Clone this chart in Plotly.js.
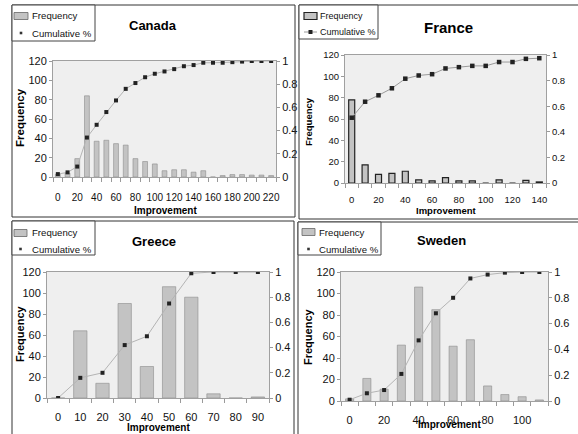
<!DOCTYPE html>
<html><head><meta charset="utf-8">
<script src="https://cdn.plot.ly/plotly-3.0.1.min.js"></script>
<style>html,body{margin:0;padding:0;background:#fff}</style>
</head><body>
<div id="chart" style="width:578px;height:434px"></div>
<script>
// ---------- DATA ----------
const canadaImprovement = [0,10,20,30,40,50,60,70,80,90,100,110,120,130,140,150,160,170,180,190,200,210,220];
const canadaFrequency   = [3,4,19,84,37,38,34.5,33,19,16,13.5,6.5,7.5,7.5,5,6.5,0,1.5,2.5,2.5,2,2,1.5];
const canadaCumulative  = [0.025,0.04,0.09,0.34,0.45,0.56,0.66,0.76,0.81,0.86,0.89,0.91,0.93,0.955,0.965,0.985,0.985,0.985,0.99,0.995,1,1,1];
const canadaTicks       = [0,20,40,60,80,100,120,140,160,180,200,220];

const franceImprovement = [0,10,20,30,40,50,60,70,80,90,100,110,120,130,140];
const franceFrequency   = [78,17,8,9,11,3,2,5,2,2,0,3,0,2.5,1];
const franceCumulative  = [0.51,0.635,0.685,0.74,0.815,0.84,0.85,0.895,0.905,0.915,0.915,0.945,0.945,0.97,0.975];
const franceTicks       = [0,20,40,60,80,100,120,140];

const greeceImprovement = [0,10,20,30,40,50,60,70,80,90];
const greeceFrequency   = [0,64,14,90,30,106,96,4,0,1];
const greeceCumulative  = [0,0.16,0.2,0.42,0.49,0.75,0.99,1,1,1];
const greeceTicks       = [0,10,20,30,40,50,60,70,80,90];

const swedenImprovement = [0,10,20,30,40,50,60,70,80,90,100,110];
const swedenFrequency   = [2,21,11,52,106,85,51,57,14,6,4,1];
const swedenCumulative  = [0.01,0.06,0.085,0.21,0.47,0.68,0.8,0.95,0.98,0.995,1,1];
const swedenTicks       = [0,20,40,60,80,100];

const freqTicks = [0,20,40,60,80,100,120];
const cumTicks  = [0,0.2,0.4,0.6,0.8,1];
const cumLabels = ['0','0.2','0.4','0.6','0.8','1'];
const legendLabels = ['Frequency','Cumulative %'];

// ---------- LAYOUT HELPERS ----------
const W = 578, H = 434;
const px = v => v / W;
const py = v => 1 - v / H;
const FONT = 'Liberation Sans, Arial, sans-serif';

const panels = [
  {title:'Canada', x:canadaImprovement, f:canadaFrequency, c:canadaCumulative, ticks:canadaTicks,
   xk:'x', yk:'y', y2k:'y2', xl:'xaxis', yl:'yaxis', y2l:'yaxis2',
   box:[53,276,61,177], xr:[-5,225], fs:11, xfs:10, tlen:11, barW:5, barLine:'#8c8c8c', barLW:0.6, lineLeg:false,
   titlePos:[153,25,13], xt:[165,210,10], yt:[20,118,11.5], frame:[12,295,5,217],
   leg:{box:[12,95,5,41], icon:[14,28], text:30, r1:16, r2:33, fs:9.6}},
  {title:'France', x:franceImprovement, f:franceFrequency, c:franceCumulative, ticks:franceTicks,
   xk:'x2', yk:'y3', y2k:'y4', xl:'xaxis2', yl:'yaxis3', y2l:'yaxis4',
   box:[345,546,55,183], xr:[-5,145], fs:9.5, xfs:9.5, tlen:8, barW:4.5, barLine:'#222', barLW:1.2, lineLeg:true,
   titlePos:[448,27,15], xt:[446,210,9.5], yt:[308,121,9.5], frame:[299,580,5,219],
   leg:{box:[299,378,5,39], icon:[304,317], text:318, r1:16, r2:32, fs:9}},
  {title:'Greece', x:greeceImprovement, f:greeceFrequency, c:greeceCumulative, ticks:greeceTicks,
   xk:'x3', yk:'y5', y2k:'y6', xl:'xaxis3', yl:'yaxis5', y2l:'yaxis6',
   box:[47,269,272,398], xr:[-5,95], fs:11, xfs:11, tlen:9, barW:6, barLine:'#8c8c8c', barLW:0.6, lineLeg:false,
   titlePos:[154,241,13], xt:[158,427,10], yt:[20,334,11], frame:[12,294,221,440],
   leg:{box:[12,95,221,255], icon:[14,27], text:30, r1:233, r2:249, fs:9.6}},
  {title:'Sweden', x:swedenImprovement, f:swedenFrequency, c:swedenCumulative, ticks:swedenTicks,
   xk:'x4', yk:'y7', y2k:'y8', xl:'xaxis4', yl:'yaxis7', y2l:'yaxis8',
   box:[341,548,272,401], xr:[-5,115], fs:11, xfs:11, tlen:8.5, barW:4.7, barLine:'#8c8c8c', barLW:0.6, lineLeg:false,
   titlePos:[442,240,13], xt:[449,424,10], yt:[308,336,11], frame:[298,580,222,440],
   leg:{box:[298,381,222,255], icon:[302,315], text:317, r1:232, r2:249, fs:9.6}}
];

const data = [];
const layout = {
  width: W, height: H,
  margin: {l:0, r:0, t:0, b:0, pad:0},
  paper_bgcolor: '#ffffff',
  plot_bgcolor: '#efefef',
  font: {family: FONT, color: '#111', size: 11},
  showlegend: false,
  annotations: [],
  shapes: []
};
const frameShapes = [], legendShapes = [];

panels.forEach(p => {
  data.push({
    type:'bar', name:legendLabels[0], x:p.x, y:p.f, xaxis:p.xk, yaxis:p.yk, width:p.barW,
    marker:{color:'#c3c3c3', line:{color:p.barLine, width:p.barLW}}
  });
  data.push({
    type:'scatter', mode:'lines+markers', name:legendLabels[1], x:p.x, y:p.c, xaxis:p.xk, yaxis:p.y2k,
    line:{color:p.lineLeg ? '#9a9a9a' : '#b4b4b4', width:1},
    marker:{symbol:'square', size:p.lineLeg ? 4.5 : 4, color:'#222'}
  });

  const tickFont = {family:FONT, size:p.fs, color:'#111'};
  layout[p.xl] = {
    domain:[px(p.box[0]), px(p.box[1])], anchor:p.yk, range:p.xr,
    tickmode:'array', tickvals:p.ticks, ticktext:p.ticks.map(String), tickangle:0,
    ticks:'outside', ticklen:p.tlen, tickcolor:'rgba(0,0,0,0)', tickfont:{family:FONT, size:p.xfs, color:'#111'},
    minor:{ticks:'outside', ticklen:4, tickcolor:'#9a9a9a', tick0:5, dtick:10, showgrid:false},
    showline:true, linecolor:'#a0a0a0', linewidth:1, mirror:true,
    showgrid:false, zeroline:false, fixedrange:true
  };
  layout[p.yl] = {
    domain:[py(p.box[3]), py(p.box[2])], anchor:p.xk, range:[0,120],
    tickmode:'array', tickvals:freqTicks, ticks:'outside', ticklen:3, tickcolor:'#9a9a9a',
    tickfont:tickFont, showline:true, linecolor:'#a0a0a0', linewidth:1,
    showgrid:false, zeroline:false, fixedrange:true
  };
  layout[p.y2l] = {
    overlaying:p.yk, anchor:p.xk, side:'right', range:[0,1],
    tickmode:'array', tickvals:cumTicks, ticktext:cumLabels, ticks:'outside', ticklen:3, tickcolor:'#9a9a9a',
    tickfont:tickFont, showline:true, linecolor:'#a0a0a0', linewidth:1,
    showgrid:false, zeroline:false, fixedrange:true
  };

  // titles
  layout.annotations.push({
    xref:'paper', yref:'paper', x:px(p.titlePos[0]), y:py(p.titlePos[1]), xanchor:'center', yanchor:'middle',
    text:'<b>' + p.title + '</b>', showarrow:false, font:{family:FONT, size:p.titlePos[2], color:'#000'}
  });
  layout.annotations.push({
    xref:'paper', yref:'paper', x:px(p.xt[0]), y:py(p.xt[1]), xanchor:'center', yanchor:'middle',
    text:'<b>Improvement</b>', showarrow:false, font:{family:FONT, size:p.xt[2], color:'#000'}
  });
  layout.annotations.push({
    xref:'paper', yref:'paper', x:px(p.yt[0]), y:py(p.yt[1]), xanchor:'center', yanchor:'middle',
    text:'<b>Frequency</b>', textangle:-90, showarrow:false, font:{family:FONT, size:p.yt[2], color:'#000'}
  });

  // panel frame
  frameShapes.push({
    type:'rect', xref:'paper', yref:'paper', layer:'above',
    x0:px(p.frame[0]), x1:px(p.frame[1]), y0:py(p.frame[3]), y1:py(p.frame[2]),
    line:{color:'#333', width:1}, fillcolor:'rgba(0,0,0,0)'
  });

  // legend (drawn by hand so its size matches)
  const L = p.leg;
  legendShapes.push({
    type:'rect', xref:'paper', yref:'paper', layer:'above',
    x0:px(L.box[0]), x1:px(L.box[1]), y0:py(L.box[3]), y1:py(L.box[2]),
    line:{color:'#444', width:1}, fillcolor:'#ffffff'
  });
  legendShapes.push({
    type:'rect', xref:'paper', yref:'paper', layer:'above',
    x0:px(L.icon[0]), x1:px(L.icon[1]), y0:py(L.r1 + 3.5), y1:py(L.r1 - 3.5),
    line:{color:p.lineLeg ? '#222' : '#666', width:p.lineLeg ? 1.2 : 0.8}, fillcolor:'#c3c3c3'
  });
  const mx = (L.icon[0] + L.icon[1]) / 2;
  if (p.lineLeg) {
    legendShapes.push({
      type:'line', xref:'paper', yref:'paper', layer:'above',
      x0:px(L.icon[0]), x1:px(L.icon[1]), y0:py(L.r2), y1:py(L.r2),
      line:{color:'#9a9a9a', width:1}
    });
    legendShapes.push({
      type:'rect', xref:'paper', yref:'paper', layer:'above',
      x0:px(mx - 2), x1:px(mx + 2), y0:py(L.r2 + 2), y1:py(L.r2 - 2),
      line:{width:0}, fillcolor:'#222'
    });
  } else {
    legendShapes.push({
      type:'rect', xref:'paper', yref:'paper', layer:'above',
      x0:px(mx - 1.3), x1:px(mx + 1.3), y0:py(L.r2 + 1.3), y1:py(L.r2 - 1.3),
      line:{width:0}, fillcolor:'#333'
    });
  }
  layout.annotations.push({
    xref:'paper', yref:'paper', x:px(L.text), y:py(L.r1), xanchor:'left', yanchor:'middle',
    text:legendLabels[0], showarrow:false, font:{family:FONT, size:L.fs, color:'#111'}
  });
  layout.annotations.push({
    xref:'paper', yref:'paper', x:px(L.text), y:py(L.r2), xanchor:'left', yanchor:'middle',
    text:legendLabels[1], showarrow:false, font:{family:FONT, size:L.fs, color:'#111'}
  });
});

layout.shapes = frameShapes.concat(legendShapes);

Plotly.newPlot('chart', data, layout, {displayModeBar:false, staticPlot:true});
</script>
</body></html>
